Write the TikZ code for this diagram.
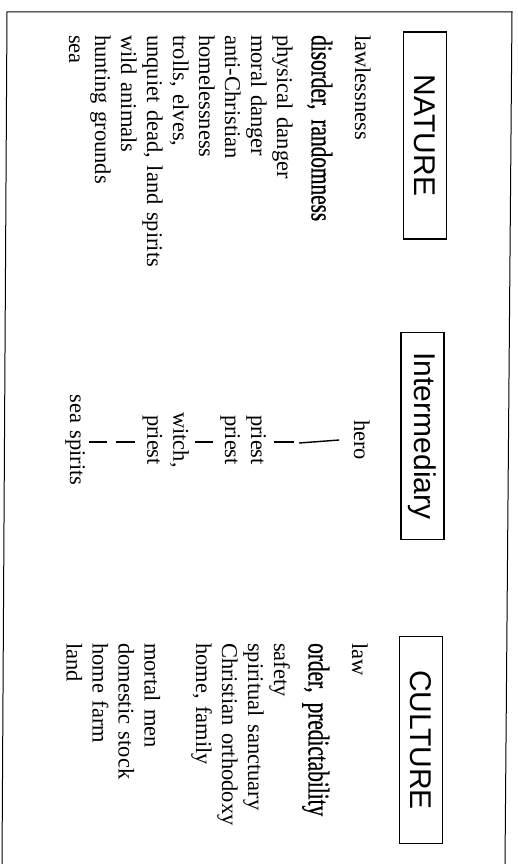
\documentclass[tikz,border=0pt]{standalone}
\usepackage{fontspec}
\setmainfont{Liberation Serif}
\newfontfamily\headfont{Liberation Sans}
\newfontfamily\narrowfont[FakeStretch=0.71, FakeBold=0.8]{Liberation Serif}
\usetikzlibrary{positioning}

\begin{document}
\begin{tikzpicture}[x=1pt, y=1pt, node distance=0pt,
  head/.style={draw, line width=1.1pt, font=\headfont\fontsize{30}{36}\selectfont, minimum width=207pt, minimum height=43pt, inner sep=0pt},
  item/.style={font=\fontsize{22.5}{25.6}\selectfont, text width=240pt, align=left, inner sep=0pt, text height=18pt, text depth=7.6pt},
  big/.style={item, font=\narrowfont\fontsize{30}{34}\selectfont, text height=35.4pt, text depth=16pt},
  mid/.style={item, text width=100pt, align=center},
  bar/.style={line width=1.4pt},
  frame/.style={line width=1pt}]
  \useasboundingbox (0,0) rectangle (518,-864);
  \draw[frame] (2,-864) -- (7,-12) -- (512,-12) -- (505,-864);
  \begin{scope}[rotate=-90, transform shape]
    % headings
    \node[head] (nature) at (135.5,425) {NATURE};
    \node[head] (inter) at (436,422.5) {Intermediary};
    \node[head] (culture) at (740,421) {CULTURE};
    % nature side
    \node[item, anchor=base west] (lawless) at (35,355) {lawlessness};
    \node[big, below=of lawless] (disorder) {disorder, randomness};
    \node[item, below=of disorder] (physdanger) {physical danger};
    \node[item, below=of physdanger] (moraldanger) {moral danger};
    \node[item, below=of moraldanger] (antichrist) {anti-Christian};
    \node[item, below=of antichrist] (homeless) {homelessness};
    \node[item, below=of homeless] (trolls) {trolls, elves,};
    \node[item, below=of trolls] (unquiet) {unquiet dead, land spirits};
    \node[item, below=of unquiet] (wild) {wild animals};
    \node[item, below=of wild] (hunting) {hunting grounds};
    \node[item, below=of hunting] (sea) {sea};
    % go-betweens
    \node[mid, anchor=base] (hero) at (440,354) {hero};
    \node[mid, below=77pt of hero] (priestA) {priest};
    \node[mid, below=of priestA] (priestB) {priest};
    \node[mid, below=25.6pt of priestB] (witch) {witch,};
    \node[mid, below=of witch] (priestC) {priest};
    \node[mid, below=51.2pt of priestC] (seaspirits) {sea spirits};
    % culture side
    \node[item, anchor=base west] (law) at (643,352) {law};
    \node[big, below=of law] (order) {order, predictability};
    \node[item, below=of order] (safety) {safety};
    \node[item, below=of safety] (sanctuary) {spiritual sanctuary};
    \node[item, below=of sanctuary] (orthodoxy) {Christian orthodoxy};
    \node[item, below=of orthodoxy] (homefamily) {home, family};
    \node[item, below=25.6pt of homefamily] (mortal) {mortal men};
    \node[item, below=of mortal] (stock) {domestic stock};
    \node[item, below=of stock] (farm) {home farm};
    \node[item, below=of farm] (land) {land};
    % bars between the go-betweens
    \draw[bar] ([yshift=-7pt]hero.south) -- ([xshift=3pt, yshift=-47pt]hero.south);
    \draw[bar] ([xshift=2pt, yshift=25pt]priestA.north) -- ([xshift=2pt, yshift=5pt]priestA.north);
    \draw[bar] ([xshift=2pt, yshift=-4pt]priestB.south) -- ([xshift=2pt, yshift=-22pt]priestB.south);
    \draw[bar] ([xshift=2pt, yshift=-5pt]priestC.south) -- ([xshift=2pt, yshift=-24pt]priestC.south);
    \draw[bar] ([xshift=2pt, yshift=19pt]seaspirits.north) -- ([xshift=2pt, yshift=1pt]seaspirits.north);
  \end{scope}
\end{tikzpicture}
\end{document}
